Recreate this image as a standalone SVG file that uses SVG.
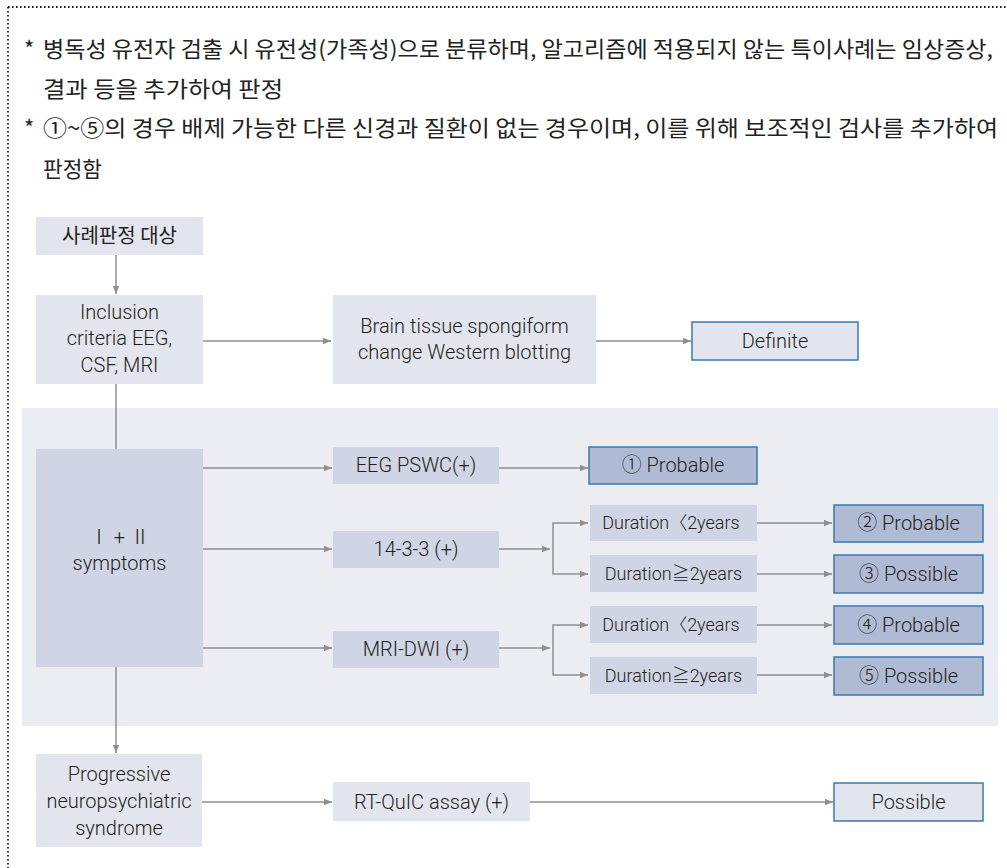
<svg xmlns="http://www.w3.org/2000/svg" width="1007" height="868" viewBox="0 0 1007 868">
<style>
.t{font-family:"Roboto","Noto Sans CJK KR","Liberation Sans",sans-serif;font-size:20px;font-weight:300;fill:#231f20;text-anchor:middle}
.k{font-family:"Noto Sans CJK KR","Noto Sans CJK SC",sans-serif;font-size:22px;fill:#222}
.light{fill:#e2e5ee}
.mid{fill:#cfd5e4}
.res{fill:#afbbd5;stroke:#3a78ae;stroke-width:1.5}
.res2{fill:#e2e5ee;stroke:#3a78ae;stroke-width:1.5}
.c{fill:none;stroke:#8f8f8f;stroke-width:1.5}
</style>
<defs>
<marker id="ah" viewBox="0 0 10 10" refX="10" refY="5" markerWidth="8" markerHeight="8" markerUnits="userSpaceOnUse" orient="auto">
<path d="M0,1 L10,5 L0,9 Z" fill="#8f8f8f"/>
</marker>
</defs>
<rect width="1007" height="868" fill="#ffffff"/>
<path d="M8,7 H1007 M8,7 V868" fill="none" stroke="#222" stroke-width="1.8" stroke-dasharray="1.6 2.4"/>
<g id="notes">
<text class="k" x="24" y="57">*</text>
<text class="k" x="43" y="57" textLength="950" lengthAdjust="spacingAndGlyphs">병독성 유전자 검출 시 유전성(가족성)으로 분류하며, 알고리즘에 적용되지 않는 특이사례는 임상증상,</text>
<text class="k" x="43" y="97" textLength="240" lengthAdjust="spacingAndGlyphs">결과 등을 추가하여 판정</text>
<text class="k" x="24" y="136">*</text>
<text class="k" x="43" y="136" textLength="955" lengthAdjust="spacingAndGlyphs">①~⑤의 경우 배제 가능한 다른 신경과 질환이 없는 경우이며, 이를 위해 보조적인 검사를 추가하여</text>
<text class="k" x="43" y="177" textLength="59" lengthAdjust="spacingAndGlyphs">판정함</text>
</g>
<rect id="panel" x="22" y="408" width="976" height="318" fill="#ebedf3"/>
<g id="connectors">
<path class="c" d="M116,255 V294" marker-end="url(#ah)"/>
<path class="c" d="M203,341 H331" marker-end="url(#ah)"/>
<path class="c" d="M596,341 H691" marker-end="url(#ah)"/>
<path class="c" d="M116,384 V449"/>
<path class="c" d="M203,468 H332" marker-end="url(#ah)"/>
<path class="c" d="M203,549 H332" marker-end="url(#ah)"/>
<path class="c" d="M203,648 H332" marker-end="url(#ah)"/>
<path class="c" d="M499,468 H588" marker-end="url(#ah)"/>
<path class="c" d="M499,549 H550" marker-end="url(#ah)"/>
<path class="c" d="M553,549 V523 H588" marker-end="url(#ah)"/>
<path class="c" d="M553,549 V574 H588" marker-end="url(#ah)"/>
<path class="c" d="M499,648 H550" marker-end="url(#ah)"/>
<path class="c" d="M553,648 V625 H588" marker-end="url(#ah)"/>
<path class="c" d="M553,648 V675 H588" marker-end="url(#ah)"/>
<path class="c" d="M757,523 H832" marker-end="url(#ah)"/>
<path class="c" d="M757,574 H832" marker-end="url(#ah)"/>
<path class="c" d="M757,625 H832" marker-end="url(#ah)"/>
<path class="c" d="M757,675 H832" marker-end="url(#ah)"/>
<path class="c" d="M116,667 V753" marker-end="url(#ah)"/>
<path class="c" d="M202,802 H332" marker-end="url(#ah)"/>
<path class="c" d="M530,802 H833" marker-end="url(#ah)"/>
</g>
<g id="target">
<rect class="light" x="36" y="217" width="167" height="38"/>
<text class="t" x="119.5" y="243" style="font-family:'Noto Sans CJK KR',sans-serif;font-weight:400">사례판정 대상</text>
</g>
<g id="inclusion">
<rect class="light" x="36" y="295" width="167" height="89"/>
<text class="t" x="119.5" y="319">Inclusion</text>
<text class="t" x="119.5" y="345">criteria EEG,</text>
<text class="t" x="119.5" y="372">CSF, MRI</text>
</g>
<g id="brain">
<rect class="light" x="333" y="295" width="263" height="89"/>
<text class="t" x="464.5" y="333">Brain tissue spongiform</text>
<text class="t" x="464.5" y="359">change Western blotting</text>
</g>
<g id="definite">
<rect class="res2" x="692" y="322" width="166" height="38"/>
<text class="t" x="775" y="348">Definite</text>
</g>
<g id="symptoms">
<rect class="mid" x="36" y="449" width="167" height="218"/>
<text class="t" x="119.5" y="544">Ⅰ  +  Ⅱ</text>
<text class="t" x="119.5" y="570">symptoms</text>
</g>
<g id="eeg">
<rect class="mid" x="333" y="447" width="166" height="37"/>
<text class="t" x="416" y="472">EEG PSWC(+)</text>
</g>
<g id="p1433">
<rect class="mid" x="333" y="531" width="166" height="37"/>
<text class="t" x="416" y="556">14-3-3 (+)</text>
</g>
<g id="mri">
<rect class="mid" x="333" y="631" width="166" height="37"/>
<text class="t" x="416" y="656">MRI-DWI (+)</text>
</g>
<g id="prob1">
<rect class="res" x="589" y="447" width="168" height="37"/>
<text class="t" x="673" y="472">① Probable</text>
</g>
<g id="dur1a">
<rect class="mid" x="590" y="505" width="167" height="36"/>
<text class="t" x="671" y="529" style="font-size:18px">Duration〈2years</text>
</g>
<g id="dur1b">
<rect class="mid" x="590" y="555" width="167" height="37"/>
<text class="t" x="673.5" y="580" style="font-size:18px">Duration≧2years</text>
</g>
<g id="dur2a">
<rect class="mid" x="590" y="606" width="167" height="37"/>
<text class="t" x="671" y="631" style="font-size:18px">Duration〈2years</text>
</g>
<g id="dur2b">
<rect class="mid" x="590" y="657" width="167" height="37"/>
<text class="t" x="673.5" y="682" style="font-size:18px">Duration≧2years</text>
</g>
<g id="prob2">
<rect class="res" x="834" y="505" width="149" height="37"/>
<text class="t" x="908.5" y="530">② Probable</text>
</g>
<g id="poss3">
<rect class="res" x="834" y="555" width="149" height="38"/>
<text class="t" x="908.5" y="581">③ Possible</text>
</g>
<g id="prob4">
<rect class="res" x="834" y="606" width="149" height="38"/>
<text class="t" x="908.5" y="632">④ Probable</text>
</g>
<g id="poss5">
<rect class="res" x="834" y="657" width="149" height="38"/>
<text class="t" x="908.5" y="683">⑤ Possible</text>
</g>
<g id="progressive">
<rect class="light" x="36" y="754" width="166" height="93"/>
<text class="t" x="119" y="781">Progressive</text>
<text class="t" x="119" y="808">neuropsychiatric</text>
<text class="t" x="119" y="835">syndrome</text>
</g>
<g id="rtquic">
<rect class="light" x="333" y="782" width="197" height="39"/>
<text class="t" x="431.5" y="809">RT-QuIC assay (+)</text>
</g>
<g id="possible">
<rect class="res2" x="834" y="783" width="149" height="38"/>
<text class="t" x="908.5" y="809">Possible</text>
</g>
</svg>
